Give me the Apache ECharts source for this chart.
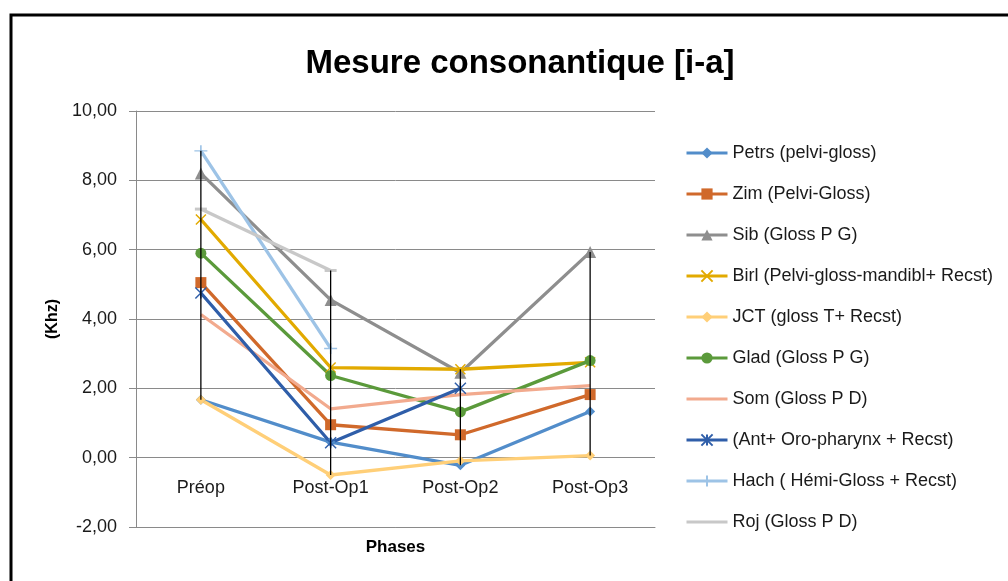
<!DOCTYPE html>
<html>
<head>
<meta charset="utf-8">
<script src="https://cdn.jsdelivr.net/npm/echarts@6/dist/echarts.min.js"></script>
<style>
  html, body { margin: 0; padding: 0; background: #fff; }
  #chart { width: 1008px; height: 581px; }
</style>
</head>
<body>
<div id="chart"></div>
<script>
// Mesure consonantique [i-a] : valeurs.
const phases = ["Préop", "Post-Op1", "Post-Op2", "Post-Op3"];

const petrs = [1.67, 0.45, -0.22, 1.33];
const zim = [5.05, 0.95, 0.66, 1.82];
const sib = [8.2, 4.55, 2.45, 5.93];
const birl = [6.87, 2.6, 2.55, 2.75];
const jct = [1.67, -0.5, -0.09, 0.06];
const glad = [5.9, 2.37, 1.32, 2.8];
const som = [4.13, 1.41, 1.82, 2.08];
const ant = [4.75, 0.43, 2.0, null];
const hach = [8.85, 3.15, null, null];
const roj = [7.17, 5.4, null, null];

const yTicks = [-2, 0, 2, 4, 6, 8, 10];

const FONT = "Liberation Sans, sans-serif";
const X_MARK = "path://M0,0L10,10M10,0L0,10";
const STAR = "path://M0,0L10,10M10,0L0,10M5,0L5,10";
const PLUS = "path://M0,5L12,5M6,0L6,10";
// icône de légende sans marqueur : juste un trait au milieu
const LINE_ONLY = "path://M0,0L41,0L41,0ZM0,5.5L41,5.5L41,8.5L0,8.5ZM0,14L41,14L41,14Z";

const defs = [
  { name: "Petrs (pelvi-gloss)", data: petrs, color: "#528dca", symbol: "diamond", size: 10 },
  { name: "Zim (Pelvi-Gloss)", data: zim, color: "#d0692b", symbol: "rect", size: 11 },
  { name: "Sib (Gloss P G)", data: sib, color: "#8e8e8e", symbol: "triangle", size: 12 },
  { name: "Birl (Pelvi-gloss-mandibl+ Recst)", data: birl, color: "#e2aa00", symbol: X_MARK, size: 10, stroke: true },
  { name: "JCT (gloss T+ Recst)", data: jct, color: "#ffcf78", symbol: "diamond", size: 10 },
  { name: "Glad (Gloss P G)", data: glad, color: "#5b9a3b", symbol: "circle", size: 11 },
  { name: "Som (Gloss P D)", data: som, color: "#f2aa8e", symbol: "none", size: 0, icon: LINE_ONLY },
  { name: "(Ant+ Oro-pharynx + Recst)", data: ant, color: "#2f5ea9", symbol: STAR, size: 11, stroke: true },
  { name: "Hach ( Hémi-Gloss + Recst)", data: hach, color: "#9dc3e6", symbol: PLUS, size: [13, 11], stroke: true },
  { name: "Roj (Gloss P D)", data: roj, color: "#c8c8c8", symbol: "rect", size: [12, 3], icon: LINE_ONLY },
];

const allSeries = [petrs, zim, sib, birl, jct, glad, som, ant, hach, roj];

// lignes haut-bas : min et max de chaque phase
const hiLo = phases.map((p, i) => {
  const vals = allSeries.map((s) => s[i]).filter((v) => v != null);
  return [i, Math.min(...vals), Math.max(...vals)];
});

const series = defs.map((d) => ({
  name: d.name,
  type: "line",
  data: d.data,
  symbol: d.symbol,
  symbolSize: d.size,
  showSymbol: d.symbol !== "none",
  connectNulls: false,
  lineStyle: { width: 3.3, color: d.color },
  itemStyle: d.stroke
    ? { color: "rgba(0,0,0,0)", borderColor: d.color, borderWidth: 1.5 }
    : { color: d.color, borderWidth: 0 },
  emphasis: { disabled: true },
  z: 2,
}));

series.push({
  type: "custom",
  name: "hilo",
  data: hiLo,
  z: 5,
  silent: true,
  renderItem: (params, api) => {
    const top = api.coord([api.value(0), api.value(2)]);
    const bot = api.coord([api.value(0), api.value(1)]);
    return {
      type: "line",
      shape: { x1: top[0], y1: top[1], x2: bot[0], y2: bot[1] },
      style: { stroke: "#000", lineWidth: 1.3 },
    };
  },
});

const chart = echarts.init(document.getElementById("chart"));
chart.setOption({
  backgroundColor: "#fff",
  animation: false,
  title: {
    text: "Mesure consonantique [i-a]",
    left: 515,
    top: 42,
    textAlign: "center",
    textStyle: { fontFamily: FONT, fontSize: 33, fontWeight: "bold", color: "#000" },
  },
  graphic: [{
    type: "rect",
    shape: { x: 11, y: 15, width: 1200, height: 800 },
    style: { fill: "none", stroke: "#000", lineWidth: 3 },
    silent: true,
  }],
  legend: {
    orient: "vertical",
    left: 680,
    top: 138,
    itemWidth: 41,
    itemHeight: 14,
    itemGap: 21,
    data: defs.map((d) => (d.icon ? { name: d.name, icon: d.icon } : d.name)),
    lineStyle: { width: 3 },
    textStyle: { fontFamily: FONT, fontSize: 18, color: "#1a1a1a", lineHeight: 20 },
  },
  grid: { left: 136, top: 111, width: 519, height: 416, containLabel: false, outerBoundsMode: "none" },
  xAxis: {
    type: "category",
    data: phases,
    boundaryGap: true,
    name: "Phases",
    nameLocation: "middle",
    nameGap: 12,
    nameTextStyle: { fontFamily: FONT, fontSize: 17, fontWeight: "bold", color: "#000" },
    axisLine: { onZero: false, lineStyle: { color: "#8a8a8a", width: 1 } },
    axisTick: { show: false },
    axisLabel: { margin: -48, fontFamily: FONT, fontSize: 18, color: "#1a1a1a" },
  },
  yAxis: {
    type: "value",
    min: yTicks[0],
    max: yTicks[yTicks.length - 1],
    interval: 2,
    name: "(Khz)",
    nameLocation: "middle",
    nameGap: 74,
    nameRotate: 90,
    nameTextStyle: { fontFamily: FONT, fontSize: 16, fontWeight: "bold", color: "#000" },
    axisLine: { show: true, lineStyle: { color: "#8a8a8a" } },
    axisTick: { show: true, length: 7, lineStyle: { color: "#8a8a8a" } },
    splitLine: { lineStyle: { color: "#8a8a8a", width: 1 } },
    axisLabel: {
      margin: 19,
      fontFamily: FONT,
      fontSize: 18,
      color: "#1a1a1a",
      formatter: (v) => v.toFixed(2).replace(".", ","),
    },
  },
  series,
});
</script>
</body>
</html>
